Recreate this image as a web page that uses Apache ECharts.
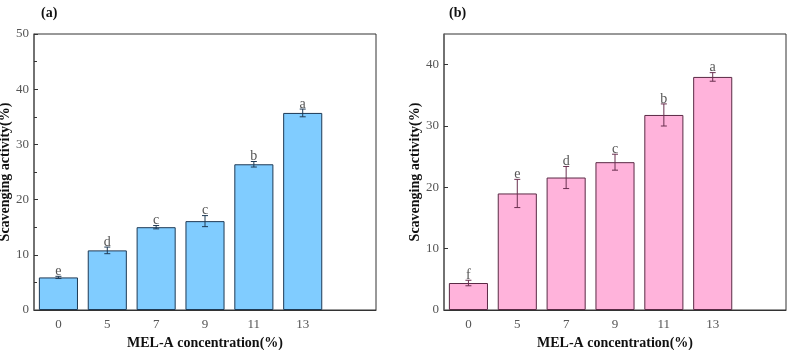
<!DOCTYPE html>
<html>
<head>
<meta charset="utf-8">
<script src="https://cdn.jsdelivr.net/npm/echarts@6/dist/echarts.min.js"></script>
<style>
    html, body { margin: 0; padding: 0; background: #fff; }
    #chart { width: 788px; height: 350px; }
</style>
</head>
<body>
<div id="chart"></div>
<script>
// categories (last one is an empty slot, the plots leave room on the right)
const concentrations = ['0', '5', '7', '9', '11', '13', '']

const meanA = [5.9, 10.8, 15.0, 16.1, 26.4, 35.7]
const errA = [0.2, 0.6, 0.3, 1.0, 0.5, 0.7]
const lettersA = ['e', 'd', 'c', 'c', 'b', 'a']

const meanB = [4.4, 19.0, 21.6, 24.1, 31.8, 38.0]
const errB = [0.45, 2.3, 1.8, 1.3, 1.8, 0.7]
const lettersB = ['f', 'e', 'd', 'c', 'b', 'a']

const yTicksA = { min: 0, max: 50, interval: 10 }
const yTicksB = { min: 0, max: 45, interval: 10 }

const serif = '"Liberation Serif", "DejaVu Serif", serif'
const chart = echarts.init(document.getElementById('chart'))

const errorSeries = (axisIndex, means, errs, letters, color) => ({
    type: 'custom',
    xAxisIndex: axisIndex,
    yAxisIndex: axisIndex,
    z: 5,
    data: means.map((m, i) => [i, m - errs[i], m + errs[i]]),
    renderItem: (params, api) => {
        const lo = api.coord([api.value(0), api.value(1)])
        const hi = api.coord([api.value(0), api.value(2)])
        const cap = 3
        const stroke = { stroke: color, lineWidth: 1 }
        return {
            type: 'group',
            children: [
                { type: 'line', shape: { x1: hi[0], y1: hi[1], x2: lo[0], y2: lo[1] }, style: stroke },
                { type: 'line', shape: { x1: hi[0] - cap, y1: hi[1], x2: hi[0] + cap, y2: hi[1] }, style: stroke },
                { type: 'line', shape: { x1: lo[0] - cap, y1: lo[1], x2: lo[0] + cap, y2: lo[1] }, style: stroke },
                {
                    type: 'text',
                    x: hi[0],
                    y: hi[1] + 2,
                    style: {
                        text: letters[params.dataIndex],
                        fill: '#555',
                        font: '14px ' + serif,
                        align: 'center',
                        verticalAlign: 'bottom',
                    },
                },
            ],
        }
    },
})

const xAxisFor = gridIndex => ({
    type: 'category',
    gridIndex,
    data: concentrations,
    boundaryGap: true,
    name: 'MEL-A concentration(%)',
    nameLocation: 'middle',
    nameGap: 26,
    nameTextStyle: { fontFamily: serif, fontWeight: 'bold', fontSize: 14, color: '#111' },
    axisLine: { lineStyle: { color: '#333', width: 1 } },
    axisTick: {
        inside: true,
        length: 5,
        alignWithLabel: true,
        interval: index => index < 6,
        lineStyle: { color: '#222', width: 1.5 },
    },
    axisLabel: { fontFamily: serif, fontSize: 13, color: '#555', margin: 8 },
    splitLine: { show: false },
})

const yAxisFor = (gridIndex, ticks, minor, showMax) => ({
    type: 'value',
    gridIndex,
    min: ticks.min,
    max: ticks.max,
    interval: ticks.interval,
    name: 'Scavenging activity(%)',
    nameLocation: 'middle',
    nameGap: 19,
    nameTextStyle: { fontFamily: serif, fontWeight: 'bold', fontSize: 14, color: '#111' },
    axisLine: { show: true, lineStyle: { color: '#666', width: 1.5 } },
    axisTick: { show: true, inside: true, length: 4, lineStyle: { color: '#333' } },
    minorTick: { show: minor, splitNumber: 2, length: 3, lineStyle: { color: '#333' } },
    axisLabel: { fontFamily: serif, fontSize: 13, color: '#555', margin: 5, showMaxLabel: showMax },
    splitLine: { show: false },
})

const barSeries = (axisIndex, means, fill, border) => ({
    type: 'bar',
    xAxisIndex: axisIndex,
    yAxisIndex: axisIndex,
    barCategoryGap: '20%',
    itemStyle: { color: fill, borderColor: border, borderWidth: 1 },
    data: means,
})

const panelTitle = { fontFamily: serif, fontWeight: 'bold', fontSize: 14, color: '#111' }

chart.setOption({
    animation: false,
    title: [
        { text: '(a)', left: 36, top: 1, textStyle: panelTitle },
        { text: '(b)', left: 444, top: 1, textStyle: panelTitle },
    ],
    grid: [
        { left: 34, right: 412, top: 34, bottom: 40, outerBoundsMode: 'none', containLabel: false, show: true, borderColor: '#333', borderWidth: 1, backgroundColor: 'transparent' },
        { left: 444, right: 2, top: 34, bottom: 40, outerBoundsMode: 'none', containLabel: false, show: true, borderColor: '#333', borderWidth: 1, backgroundColor: 'transparent' },
    ],
    xAxis: [xAxisFor(0), xAxisFor(1)],
    yAxis: [yAxisFor(0, yTicksA, true, true), yAxisFor(1, yTicksB, false, false)],
    series: [
        barSeries(0, meanA, '#80CCFF', '#1e3a55'),
        errorSeries(0, meanA, errA, lettersA, '#1e3a55'),
        barSeries(1, meanB, '#FFB3DB', '#5a2a45'),
        errorSeries(1, meanB, errB, lettersB, '#6a3050'),
    ],
})
</script>
</body>
</html>
